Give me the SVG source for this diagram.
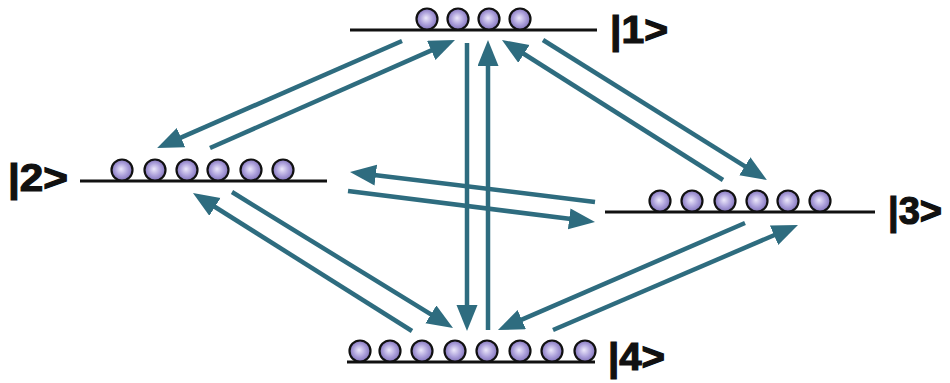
<svg xmlns="http://www.w3.org/2000/svg" width="950" height="383" viewBox="0 0 950 383">
  <defs>
    <radialGradient id="ball" cx="50%" cy="50%" r="55%" fx="45%" fy="45%">
      <stop offset="0" stop-color="#ece8fb"/>
      <stop offset="0.55" stop-color="#ab9fda"/>
      <stop offset="1" stop-color="#7a6bb5"/>
    </radialGradient>
    <marker id="ah" markerUnits="userSpaceOnUse" markerWidth="28" markerHeight="24" refX="12" refY="10.5" orient="auto">
      <path d="M0,0 L26,10.5 L0,21 z" fill="#2e6c7f"/>
    </marker>
  </defs>
  <style>
    .lvl { stroke: #111; stroke-width: 3; fill: none; }
    .b { fill: url(#ball); stroke: #111; stroke-width: 2.2; }
    .lab { font-family: "Liberation Sans", Arial, sans-serif; font-weight: bold; font-size: 38px; fill: #111; stroke: #111; stroke-width: 1.2; }
    .c line { stroke: #2e6c7f; stroke-width: 4.5; marker-end: url(#ah); }
  </style>
  <rect width="950" height="383" fill="#ffffff"/>

  <g id="level1">
    <line class="lvl" x1="350" y1="30" x2="597" y2="30"/>
    <circle class="b" cx="427" cy="19" r="10.5"/>
    <circle class="b" cx="458" cy="19" r="10.5"/>
    <circle class="b" cx="489" cy="19" r="10.5"/>
    <circle class="b" cx="520" cy="19" r="10.5"/>
    <text class="lab" x="610" y="43" textLength="58" lengthAdjust="spacingAndGlyphs">|1&gt;</text>
  </g>

  <g id="level2">
    <line class="lvl" x1="80" y1="181" x2="327" y2="181"/>
    <circle class="b" cx="122" cy="170" r="10.5"/>
    <circle class="b" cx="155" cy="170" r="10.5"/>
    <circle class="b" cx="187" cy="170" r="10.5"/>
    <circle class="b" cx="218" cy="170" r="10.5"/>
    <circle class="b" cx="251" cy="170" r="10.5"/>
    <circle class="b" cx="283" cy="170" r="10.5"/>
    <text class="lab" x="8" y="191" textLength="60" lengthAdjust="spacingAndGlyphs">|2&gt;</text>
  </g>

  <g id="level3">
    <line class="lvl" x1="605" y1="212" x2="875" y2="212"/>
    <circle class="b" cx="660" cy="201" r="10.5"/>
    <circle class="b" cx="692" cy="201" r="10.5"/>
    <circle class="b" cx="725" cy="201" r="10.5"/>
    <circle class="b" cx="757" cy="201" r="10.5"/>
    <circle class="b" cx="788" cy="201" r="10.5"/>
    <circle class="b" cx="820" cy="201" r="10.5"/>
    <text class="lab" x="888" y="224" textLength="54" lengthAdjust="spacingAndGlyphs">|3&gt;</text>
  </g>

  <g id="level4">
    <line class="lvl" x1="347" y1="362" x2="595" y2="362"/>
    <circle class="b" cx="360" cy="351" r="10.5"/>
    <circle class="b" cx="390" cy="351" r="10.5"/>
    <circle class="b" cx="422" cy="351" r="10.5"/>
    <circle class="b" cx="455" cy="351" r="10.5"/>
    <circle class="b" cx="487" cy="351" r="10.5"/>
    <circle class="b" cx="520" cy="351" r="10.5"/>
    <circle class="b" cx="552" cy="351" r="10.5"/>
    <circle class="b" cx="585" cy="351" r="10.5"/>
    <text class="lab" x="608" y="370" textLength="57" lengthAdjust="spacingAndGlyphs">|4&gt;</text>
  </g>

  <g id="connectors" class="c">
    <line x1="402" y1="41" x2="170" y2="142.4"/>
    <line x1="210" y1="148" x2="442.2" y2="45.6"/>
    <line x1="467" y1="43" x2="467" y2="317"/>
    <line x1="488" y1="330" x2="488" y2="54"/>
    <line x1="723" y1="180" x2="513.8" y2="47.5"/>
    <line x1="543" y1="40" x2="755" y2="172.6"/>
    <line x1="595" y1="202" x2="363.9" y2="173.7"/>
    <line x1="348" y1="191" x2="581.1" y2="220.3"/>
    <line x1="412" y1="331" x2="204.8" y2="200.5"/>
    <line x1="232" y1="192" x2="441.1" y2="320.7"/>
    <line x1="745" y1="223" x2="510.8" y2="324.4"/>
    <line x1="553" y1="330" x2="785.1" y2="230.5"/>
  </g>
</svg>
